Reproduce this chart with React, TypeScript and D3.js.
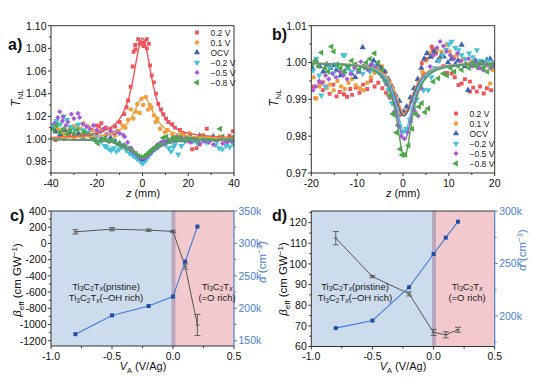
import React from 'react';
import * as d3 from 'd3';

// ---------- DATA ----------
const seriesNames = ['0.2 V', '0.1 V', 'OCV', '\u22120.2 V', '\u22120.5 V', '\u22120.8 V'];
const seriesColors = ['#F0555C', '#F2A03D', '#3B63AE', '#44C3D6', '#A359DD', '#4CA848'];
const seriesShapes = ['square', 'circle', 'up', 'down', 'diamond', 'left'];

// panel a scatter [z, T]
const aRed = [[-38,0.999],[-36,1.002],[-34,1.000],[-32,1.003],[-30,1.001],[-28,1.004],[-26,1.002],[-24,1.005],[-22,1.008],[-20,1.012],[-19,1.011],[-18,1.014],[-16,1.010],[-14,1.009],[-12,1.011],[-10,1.015],[-8,1.022],[-7,1.028],[-6.3,1.034],[-5.2,1.046],[-4.3,1.064],[-3.9,1.077],[-3.1,1.079],[-3.2,1.083],[-1.9,1.088],[-1.2,1.084],[-0.4,1.085],[0.4,1.082],[0.7,1.085],[1.9,1.088],[1.9,1.080],[2.8,1.084],[3.3,1.065],[4,1.056],[5,1.050],[5.9,1.040],[6.9,1.031],[8.1,1.026],[9.1,1.022],[10.3,1.018],[11.3,1.015],[12.9,1.013],[14.2,1.010],[16.4,1.008],[18,1.004],[20,0.998],[21.7,0.991],[23.6,0.992],[25,0.995],[27,0.998],[28.1,1.009],[30,1.000],[32,0.999],[34,1.002],[36,0.998],[38,1.003],[39.6,1.007]];
const aOrange = [[-38,1.010],[-36.8,1.008],[-35,1.004],[-33.9,1.0065],[-32,1.009],[-30,1.011],[-28.8,1.012],[-27,1.009],[-25.9,1.014],[-23.7,1.011],[-22,1.008],[-20,1.006],[-18,1.008],[-16,1.004],[-13.5,1.005],[-12,1.003],[-10.6,1.007],[-8.7,1.012],[-7.5,1.010],[-6.3,1.017],[-5.1,1.026],[-4,1.018],[-2.9,1.024],[-2.3,1.031],[-1.2,1.023],[-0.4,1.0356],[0.3,1.030],[1.5,1.037],[2.5,1.026],[3.2,1.030],[3.9,1.028],[5,1.021],[5.8,1.015],[6.5,1.018],[7.7,1.009],[9.8,1.006],[11,1.008],[13,1.004],[15,1.002],[17,1.005],[19,1.001],[20.6,1.005],[22.5,0.999],[24.5,1.001],[26.5,1.0035],[28.5,0.999],[30.5,1.001],[33.7,1.002],[35.5,0.998],[38.1,0.999],[40,1.001]];
const aOCV = [[-39.3,1.009],[-38,1.0065],[-36,1.004],[-34,1.008],[-32,1.006],[-30,1.003],[-28,1.005],[-26,1.002],[-24,1.004],[-22,1.001],[-20,1.003],[-18,1.000],[-16,0.999],[-14,1.001],[-12,0.998],[-10,0.996],[-8,0.994],[-6,0.991],[-4.5,0.988],[-3.5,0.9865],[-2.6,0.9844],[-1.8,0.983],[-1.2,0.982],[-0.5,0.9815],[0.3,0.981],[1,0.9815],[1.8,0.984],[2.8,0.9865],[3.5,0.989],[4.7,0.991],[6,0.993],[7.5,0.995],[9,0.997],[11,0.998],[13,1.000],[15,0.999],[17,1.001],[19,0.999],[21,1.002],[23,1.000],[25,1.003],[27,1.001],[29,0.999],[31,1.002],[33,1.000],[35,1.001],[37,0.999],[39,1.000]];
const aM02 = [[-39,1.012],[-37.5,1.016],[-36,1.013],[-34.5,1.020],[-33,1.017],[-31.5,1.011],[-30,1.009],[-28,1.013],[-26,1.008],[-24,1.006],[-22,1.004],[-20,1.002],[-18,0.998],[-16.5,0.994],[-15.8,0.993],[-14.5,0.991],[-13.6,0.990],[-12.5,0.992],[-11.4,0.989],[-10.2,0.991],[-9,0.993],[-7,0.990],[-5.5,0.987],[-4,0.985],[-2.5,0.983],[-1.2,0.981],[-0.3,0.979],[0.3,0.979],[1.2,0.981],[2.5,0.985],[4,0.988],[5.5,0.991],[7,0.993],[8.5,0.996],[10,0.995],[11.5,0.992],[12.5,0.989],[13.5,0.993],[14.1,0.9947],[15.6,0.9864],[17,0.994],[18.5,0.998],[20,1.000],[22,0.998],[24,0.996],[26,0.999],[28,0.997],[30,1.000],[32,0.995],[33.5,0.992],[34.9,0.991],[36.5,0.994],[38.1,0.993],[39.5,0.996]];
const aM05 = [[-38.5,1.014],[-37,1.019],[-36.2,1.024],[-35,1.016],[-34.7,1.0197],[-33.5,1.012],[-32.6,1.015],[-31.1,1.022],[-30,1.018],[-28.2,1.0226],[-27.5,1.019],[-26,1.013],[-24.5,1.011],[-23,1.009],[-21.5,1.012],[-20,1.008],[-18.5,1.006],[-17,1.009],[-15.5,1.004],[-14,1.007],[-12.5,1.005],[-11.3,1.0065],[-10,1.005],[-8.4,1.0035],[-7.8,1.002],[-6.5,0.997],[-5,0.992],[-3.5,0.988],[-2.5,0.986],[-1.5,0.984],[-0.5,0.982],[0.5,0.983],[1.5,0.985],[2.5,0.987],[3.5,0.989],[5,0.992],[6.5,0.995],[8,0.997],[9.5,0.998],[11,1.000],[13,0.999],[15,1.002],[17,0.999],[19,1.001],[21,0.997],[23,0.999],[25,0.996],[27,0.998],[29,0.997],[31,0.995],[33,0.999],[35,0.996],[37,0.997],[39,0.998]];
const aM08 = [[-39,1.008],[-37.5,1.012],[-36,1.006],[-34.5,1.009],[-33,1.004],[-31.5,1.007],[-30,1.005],[-28.5,1.008],[-27,1.003],[-25.5,1.006],[-24,1.004],[-22.5,1.002],[-21,0.999],[-19.5,0.9962],[-18,0.999],[-16.5,1.001],[-15,0.998],[-13.5,0.999],[-12,0.997],[-10.5,0.995],[-9,0.994],[-7.5,0.993],[-6,0.991],[-4.5,0.989],[-3,0.987],[-1.8,0.985],[-0.8,0.984],[0.3,0.984],[1.2,0.985],[2.2,0.987],[3.2,0.989],[4.5,0.991],[6,0.993],[7.5,0.995],[9,1.001],[10.5,1.002],[12,0.999],[13.5,1.001],[15,1.000],[16.5,1.002],[18,0.999],[20,1.001],[22,1.000],[24,0.999],[26,1.002],[28,1.000],[30,1.001],[32,0.999],[33.9,1.009],[35,1.002],[37,1.000],[39,1.001]];
// panel a fits (Lorentzian: amplitude, centre, width)
const aFitAmp = [0.089, 0.037, -0.019, -0.021, -0.018, -0.016];
const aFitCenter = [0, 0.5, 0, 0, 0, 0];
const aFitWidth = [5, 5.5, 5.5, 5, 6, 6];

// panel b scatter [z, T]
const bRed = [[-19.5,0.9935],[-19.1,0.9903],[-18.2,0.9945],[-17.5,0.9925],[-16.8,0.9935],[-16,0.9915],[-15.2,0.9940],[-14.5,0.9908],[-13.8,0.9920],[-12.9,0.9914],[-12.2,0.9907],[-11.5,0.9928],[-11.1,0.9912],[-10.3,0.9932],[-9.5,0.9918],[-8.7,0.9940],[-7.8,0.9928],[-7,0.9950],[-6.2,0.9935],[-5.4,0.9945],[-4.5,0.9930],[-3.7,0.9918],[-2.9,0.9905],[-2.1,0.9888],[-1.4,0.9870],[-0.9,0.9857],[-0.2,0.9860],[0.5,0.9865],[1.2,0.9878],[2,0.9895],[2.8,0.9920],[3.5,0.9950],[4.1,0.9998],[4.4,0.9970],[5.2,1.0010],[6.26,1.0043],[6.5,1.0036],[7.2,1.0025],[8,1.0010],[8.8,0.9990],[9.6,0.9972],[10.6,0.9970],[11.3,0.9960],[12.1,0.9939],[12.8,0.9943],[13.5,0.9955],[14.6,0.9921],[14.6,0.9948],[15.3,0.9932],[16.1,0.9921],[16.8,0.9935],[17.6,0.9916],[18.3,0.9930],[19.2,0.9925]];
const bOrange = [[-19.5,0.9960],[-18.9,0.9902],[-18.2,0.9935],[-17.4,0.9948],[-16.6,0.9930],[-15.9,0.9940],[-15.1,0.9925],[-14.3,0.9950],[-13.5,0.9935],[-12.7,0.9928],[-11.9,0.9945],[-11.1,0.9955],[-10.3,0.9938],[-9.4,0.9930],[-8.6,0.9925],[-7.8,0.9945],[-7,0.9960],[-6.2,0.9972],[-5.4,0.9985],[-4.6,0.9990],[-3.8,0.9975],[-3,0.9950],[-2.2,0.9915],[-1.4,0.9885],[-0.6,0.9864],[0.2,0.9860],[1,0.9872],[1.8,0.9895],[2.6,0.9915],[3.4,0.9945],[4.2,0.9975],[5,1.0005],[5.8,1.0025],[6.6,1.0020],[7.4,1.0035],[8.4,1.0029],[9.5,1.0048],[10.2,1.0030],[11,1.0015],[11.8,1.0020],[12.6,1.0005],[13.4,1.0010],[14.2,0.9995],[15,1.0002],[15.8,0.9990],[16.6,0.9998],[17.4,0.9985],[18.2,0.9992],[19,0.9943],[19.6,0.9980]];
const bOCV = [[-19.8,0.9985],[-19,1.0005],[-18.2,0.9990],[-17.4,0.9975],[-16.6,0.9995],[-15.8,0.9985],[-15,0.9992],[-14.5,0.9980],[-13.6,0.9965],[-12.8,0.9975],[-12,0.9985],[-11.2,0.9970],[-10.4,0.9960],[-9.6,0.9975],[-8.8,1.0041],[-8,0.9985],[-7.2,0.9990],[-6.4,1.0005],[-5.6,0.9995],[-4.8,0.9985],[-4,0.9975],[-3.2,0.9955],[-2.4,0.9935],[-1.6,0.9912],[-0.8,0.9896],[0.1,0.9866],[0.8,0.9880],[1.6,0.9905],[2.4,0.9930],[3.2,0.9955],[4,0.9985],[4.6,1.0010],[5.2,1.0025],[6,1.0015],[6.8,1.0030],[7.6,1.0005],[8.4,1.0020],[8.9,1.0016],[9.8,1.0000],[10.6,1.0010],[11.4,0.9995],[12,1.0005],[12.8,1.0048],[13.5,0.9990],[14.2,0.9925],[15,0.9995],[15.8,1.0005],[16.6,0.9985],[17.4,1.0000],[18.3,1.0007],[19,1.0010],[19.8,0.9995]];
const bM02 = [[-19.6,0.9978],[-18.9,1.0011],[-18.3,0.9965],[-17.8,0.9911],[-16.9,0.9934],[-16,0.9985],[-15.2,0.9970],[-14.4,0.9990],[-13.1,1.0020],[-12.7,1.0020],[-12,0.9985],[-11.2,0.9975],[-10.4,0.9992],[-9.6,0.9980],[-8.8,0.9970],[-8,0.9985],[-7.2,0.9975],[-6.4,0.9992],[-5.6,0.9980],[-4.8,0.9965],[-4,0.9950],[-3.2,0.9925],[-2.4,0.9890],[-1.6,0.9858],[-0.7,0.9826],[0,0.9812],[0.7,0.9820],[1.5,0.9845],[2.3,0.9875],[3,0.9900],[3.8,0.9935],[4.5,0.9925],[5.5,0.9925],[6.2,0.9960],[7,0.9985],[7.8,1.0005],[8.6,1.0020],[9.4,1.0035],[10,1.0050],[10.6,1.0057],[11.4,1.0040],[12.1,1.0034],[12.8,1.0020],[13.6,1.0010],[14.4,1.0025],[15.2,1.0015],[16.1,1.0034],[16.8,1.0005],[17.6,0.9995],[18.4,1.0005],[19.2,0.9990],[19.8,1.0000]];
const bM05 = [[-19.6,0.9925],[-19,0.9935],[-18.3,0.9950],[-17.6,0.9945],[-16.9,0.9965],[-16.2,0.9955],[-15.4,0.9970],[-14.6,0.9960],[-13.8,0.9975],[-13,0.9965],[-12.2,0.9955],[-11.4,0.9970],[-10.6,0.9985],[-9.8,0.9975],[-9.2,1.0002],[-8.4,0.9990],[-7.6,0.9980],[-6.8,0.9995],[-6,0.9985],[-5.2,0.9975],[-4.4,0.9960],[-3.6,0.9940],[-2.8,0.9905],[-2,0.9865],[-1.2,0.9830],[-0.4,0.9800],[0.3,0.9793],[1,0.9810],[1.7,0.9840],[2.5,0.9870],[3.3,0.9855],[4,0.9930],[4.8,0.9960],[5.9,0.9989],[6.6,1.0020],[7.4,1.0040],[8.1,1.0057],[8.8,1.0045],[9.5,1.0030],[10.3,1.0020],[11.1,1.0010],[11.9,1.0025],[12.7,1.0005],[13.5,0.9995],[14.3,1.0010],[15.1,0.9990],[15.9,1.0000],[16.7,0.9985],[17.5,0.9980],[18.3,0.9995],[19.1,0.9985],[19.8,0.9990]];
const bM08 = [[-19.8,0.9995],[-19.1,1.0005],[-18.4,0.9990],[-17.8,1.0027],[-17,0.9985],[-16.3,0.9975],[-15.6,1.0043],[-15.1,1.0030],[-14.4,0.9995],[-13.6,0.9985],[-12.8,0.9975],[-12,0.9990],[-11.2,1.0005],[-10.4,0.9995],[-9.6,0.9980],[-8.8,0.9990],[-8,1.0000],[-7.2,1.0010],[-6.2,1.0025],[-5.4,1.0000],[-4.6,0.9980],[-3.8,0.9950],[-3,0.9910],[-2.2,0.9860],[-1.4,0.9810],[-0.6,0.9765],[-0.2,0.9749],[0.5,0.9750],[1.2,0.9775],[2,0.9820],[2.8,0.9860],[3.5,0.9880],[4.1,0.9890],[4.8,0.9865],[5.5,0.9875],[6.6,0.9948],[7.7,0.9957],[8.8,0.9970],[9.6,0.9965],[10.4,0.9985],[11.2,0.9975],[12,0.9990],[12.8,0.9980],[13.6,0.9995],[14.4,0.9985],[15.2,1.0000],[16,0.9990],[16.8,0.9998],[17.6,0.9985],[18.4,0.9975],[19.2,0.9990]];
const bFitAmp = [-0.0138, -0.014, -0.0145, -0.019, -0.021, -0.0255];
const bFitCenter = [0.3, 0.3, 0.2, 0.3, 0.3, 0.3];
const bFitWidth = [2.4, 2.4, 2.6, 2.2, 2.3, 2.1];

// panels c, d
const vA = [-0.8, -0.5, -0.2, 0, 0.1, 0.2];
const cBeta = [143, 176, 164, 148, -284, -1006];
const cBetaErr = [27, 20, 15, 14, 30, 130];
const cAlpha = [160000, 189000, 203500, 218000, 272000, 326000];
const dBeta = [112.5, 93.9, 85.5, 66.8, 65.7, 68.1];
const dBetaErr = [3.2, 0.6, 1.0, 1.5, 1.5, 1.2];
const dAlpha = [188300, 195500, 227300, 259000, 274600, 289800];

const aXTicks = [-40, -20, 0, 20, 40];
const aYTicks = [0.98, 1.0, 1.02, 1.04, 1.06, 1.08, 1.1];
const bXTicks = [-20, -10, 0, 10, 20];
const bYTicks = [0.97, 0.98, 0.99, 1.0, 1.01];
const vTicks = [-1.0, -0.5, 0.0, 0.5];
const cLeftTicks = [400, 200, 0, -200, -400, -600, -800, -1000, -1200];
const cRightTicks = [150000, 200000, 250000, 300000, 350000];
const dLeftTicks = [60, 70, 80, 90, 100, 110, 120];
const dRightTicks = [200000, 250000, 300000];

// ---------- HELPERS ----------
const FONT = "'Liberation Sans', Arial, sans-serif";
const AX = '#333';
const RBLUE = '#4A80D6';
const TICK_FS = 10.5;

function symbolPath(shape: string) {
  switch (shape) {
    case 'square': return { d: d3.symbol(d3.symbolSquare, 15)() as string, r: 0 };
    case 'circle': return { d: d3.symbol(d3.symbolCircle, 16)() as string, r: 0 };
    case 'up': return { d: d3.symbol(d3.symbolTriangle, 17)() as string, r: 0 };
    case 'down': return { d: d3.symbol(d3.symbolTriangle, 17)() as string, r: 180 };
    case 'diamond': return { d: d3.symbol(d3.symbolSquare, 13)() as string, r: 45 };
    default: return { d: d3.symbol(d3.symbolTriangle, 17)() as string, r: -90 };
  }
}

function Marker({ x, y, shape, color }: any) {
  const s = symbolPath(shape);
  return <path d={s.d} transform={`translate(${x},${y}) rotate(${s.r})`} fill={color} />;
}

function lorentz(z: number, a: number, c: number, w: number) {
  return 1 + a / (1 + ((z - c) / w) ** 2);
}

function BottomAxis({ x, y, ticks, minor, fmt }: any) {
  return (
    <g>
      {ticks.map((t: number) => (
        <g key={'t' + t}>
          <line x1={x(t)} x2={x(t)} y1={y} y2={y + 3} stroke={AX} />
          <text x={x(t)} y={y + 13.5} textAnchor="middle" fontSize={TICK_FS} fontFamily={FONT} fill="#111">{fmt(t)}</text>
        </g>
      ))}
      {minor.map((t: number) => (
        <line key={'m' + t} x1={x(t)} x2={x(t)} y1={y} y2={y + 2} stroke={AX} />
      ))}
    </g>
  );
}

function LeftAxis({ y, x, ticks, minor, fmt }: any) {
  return (
    <g>
      {ticks.map((t: number) => (
        <g key={'t' + t}>
          <line x1={x - 3} x2={x} y1={y(t)} y2={y(t)} stroke={AX} />
          <text x={x - 4.5} y={y(t) + 3.8} textAnchor="end" fontSize={TICK_FS} fontFamily={FONT} fill="#111">{fmt(t)}</text>
        </g>
      ))}
      {minor.map((t: number) => (
        <line key={'m' + t} x1={x - 2} x2={x} y1={y(t)} y2={y(t)} stroke={AX} />
      ))}
    </g>
  );
}

function RightAxis({ y, x, ticks, minor, fmt, y0, y1 }: any) {
  return (
    <g>
      <line x1={x} x2={x} y1={y0} y2={y1} stroke={RBLUE} strokeWidth={1.2} />
      {ticks.map((t: number) => (
        <g key={'t' + t}>
          <line x1={x} x2={x + 3} y1={y(t)} y2={y(t)} stroke={RBLUE} />
          <text x={x + 4.5} y={y(t) + 3.8} textAnchor="start" fontSize={TICK_FS} fontFamily={FONT} fill={RBLUE}>{fmt(t)}</text>
        </g>
      ))}
      {minor.map((t: number) => (
        <line key={'m' + t} x1={x} x2={x + 2} y1={y(t)} y2={y(t)} stroke={RBLUE} />
      ))}
    </g>
  );
}

function TTitle({ x, y }: any) {
  return (
    <text transform={`translate(${x},${y}) rotate(-90)`} textAnchor="middle" fontSize={12} fontFamily={FONT} fill="#111">
      <tspan fontStyle="italic">T</tspan>
      <tspan fontSize={8} dy={3}>NL</tspan>
    </text>
  );
}

function ZTitle({ x, y }: any) {
  return (
    <text x={x} y={y} textAnchor="middle" fontSize={11} fontFamily={FONT} fill="#111">
      <tspan fontStyle="italic">z</tspan> (mm)
    </text>
  );
}

function VTitle({ x, y }: any) {
  return (
    <text x={x} y={y} textAnchor="middle" fontSize={11} fontFamily={FONT} fill="#111">
      <tspan fontStyle="italic">V</tspan>
      <tspan fontSize={7.5} dy={3}>A</tspan>
      <tspan dy={-3}> (V/Ag)</tspan>
    </text>
  );
}

function BetaTitle({ x, y }: any) {
  return (
    <text transform={`translate(${x},${y}) rotate(-90)`} textAnchor="middle" fontSize={11.5} fontFamily={FONT} fill="#111">
      <tspan fontStyle="italic">β</tspan>
      <tspan fontSize={8} dy={3}>eff</tspan>
      <tspan dy={-3}> (cm GW</tspan>
      <tspan fontSize={8} dy={-4}>−1</tspan>
      <tspan dy={4}>)</tspan>
    </text>
  );
}

function AlphaTitle({ x, y }: any) {
  return (
    <text transform={`translate(${x},${y}) rotate(-90)`} textAnchor="middle" fontSize={11.5} fontFamily={FONT} fill={RBLUE}>
      <tspan fontStyle="italic">α</tspan>
      <tspan> (cm</tspan>
      <tspan fontSize={8} dy={-4}>−1</tspan>
      <tspan dy={4}>)</tspan>
    </text>
  );
}

function TiText({ x, y, suffix }: any) {
  return (
    <text x={x} y={y} textAnchor="middle" fontSize={9.5} fontFamily={FONT} fill="#222">
      <tspan>Ti</tspan>
      <tspan fontSize={6.5} dy={1.5}>3</tspan>
      <tspan dy={-1.5}>C</tspan>
      <tspan fontSize={6.5} dy={1.5}>2</tspan>
      <tspan dy={-1.5}>T</tspan>
      <tspan fontSize={6.5} dy={1.5} fontStyle="italic">x</tspan>
      <tspan dy={-1.5}>{suffix}</tspan>
    </text>
  );
}

function Legend({ x, y, step }: any) {
  return (
    <g>
      {seriesNames.map((n, i) => (
        <g key={n}>
          <Marker x={x} y={y + i * step} shape={seriesShapes[i]} color={seriesColors[i]} />
          <text x={x + 13.5} y={y + i * step + 3.2} fontSize={8.5} fontFamily={FONT} fill="#222">{n}</text>
        </g>
      ))}
    </g>
  );
}

// ---------- PANELS ----------
function ScatterPanel({ id, x, y, series, amp, cen, wid, xTicks, xMinor, yTicks, yMinor, yFmt, legend }: any) {
  const [x0, x1] = x.range();
  const [y0, y1] = y.range();
  const dom = x.domain();
  const zs = d3.range(dom[0], dom[1] + 0.001, (dom[1] - dom[0]) / 400);
  const line = d3.line<number[]>().x(d => x(d[0])).y(d => y(d[1]));
  return (
    <g>
      <defs>
        <clipPath id={id}>
          <rect x={x0} y={y1} width={x1 - x0} height={y0 - y1} />
        </clipPath>
      </defs>
      <g clipPath={`url(#${id})`}>
        {series.map((s: number[][], i: number) => (
          <g key={i}>
            {s.map((p, j) => <Marker key={j} x={x(p[0])} y={y(p[1])} shape={seriesShapes[i]} color={seriesColors[i]} />)}
          </g>
        ))}
        {amp.map((a: number, i: number) => (
          <path key={'f' + i} d={line(zs.map(z => [z, lorentz(z, a, cen[i], wid[i])])) as string}
            fill="none" stroke={seriesColors[i]} strokeWidth={1.4} />
        ))}
      </g>
      <rect x={x0} y={y1} width={x1 - x0} height={y0 - y1} fill="none" stroke={AX} strokeWidth={1} />
      <BottomAxis x={x} y={y0} ticks={xTicks} minor={xMinor} fmt={(t: number) => String(t)} />
      <LeftAxis y={y} x={x0} ticks={yTicks} minor={yMinor} fmt={yFmt} />
      {legend}
    </g>
  );
}

function DualPanel({ x, yL, yR, beta, betaErr, alpha, leftTicks, leftMinor, rightTicks, rightMinor, leftFmt, textXL, textXR }: any) {
  const [x0, x1] = x.range();
  const [y0, y1] = yL.range();
  const betaLine = d3.line<number>().x((_, i) => x(vA[i])).y(d => yL(d));
  const alphaLine = d3.line<number>().x((_, i) => x(vA[i])).y(d => yR(d));
  return (
    <g>
      <rect x={x0} y={y1} width={x(0) - x0} height={y0 - y1} fill="#CCDCEC" />
      <rect x={x(0)} y={y1} width={x1 - x(0)} height={y0 - y1} fill="#F2C9CD" />
      <rect x={x(-0.012)} y={y1} width={x(0.02) - x(-0.012)} height={y0 - y1} fill="#BBA6BD" />
      <path d={betaLine(beta) as string} fill="none" stroke="#555" strokeWidth={1} />
      {beta.map((b: number, i: number) => (
        <g key={'e' + i} stroke="#555" strokeWidth={0.9}>
          <line x1={x(vA[i])} x2={x(vA[i])} y1={yL(b - betaErr[i])} y2={yL(b + betaErr[i])} />
          <line x1={x(vA[i]) - 3} x2={x(vA[i]) + 3} y1={yL(b - betaErr[i])} y2={yL(b - betaErr[i])} />
          <line x1={x(vA[i]) - 3} x2={x(vA[i]) + 3} y1={yL(b + betaErr[i])} y2={yL(b + betaErr[i])} />
          <line x1={x(vA[i]) - 2} x2={x(vA[i]) + 2} y1={yL(b)} y2={yL(b)} />
        </g>
      ))}
      <path d={alphaLine(alpha) as string} fill="none" stroke="#3F7AD6" strokeWidth={1.1} />
      {alpha.map((a: number, i: number) => (
        <rect key={'a' + i} x={x(vA[i]) - 2} y={yR(a) - 2} width={4} height={4} fill="#1E4FA8" />
      ))}
      <line x1={x0} x2={x1} y1={y1} y2={y1} stroke={AX} />
      <line x1={x0} x2={x1} y1={y0} y2={y0} stroke={AX} />
      <line x1={x0} x2={x0} y1={y1} y2={y0} stroke={AX} />
      <BottomAxis x={x} y={y0} ticks={vTicks} minor={[-0.75, -0.25, 0.25]} fmt={(t: number) => t.toFixed(1)} />
      <LeftAxis y={yL} x={x0} ticks={leftTicks} minor={leftMinor} fmt={leftFmt} />
      <RightAxis y={yR} x={x1} ticks={rightTicks} minor={rightMinor} fmt={(t: number) => (t / 1000) + 'k'} y0={y0} y1={y1} />
      <TiText x={textXL} y={289.5} suffix="(pristine)" />
      <TiText x={textXL} y={301} suffix="(–OH rich)" />
      <TiText x={textXR} y={289.5} suffix="" />
      <text x={textXR} y={301} textAnchor="middle" fontSize={9.5} fontFamily={FONT} fill="#222">(=O rich)</text>
    </g>
  );
}

export default function App() {
  const ax = d3.scaleLinear().domain([-40, 40]).range([51, 234]);
  const ay = d3.scaleLinear().domain([0.97, 1.10]).range([173, 25.7]);
  const bx = d3.scaleLinear().domain([-20, 20]).range([311.3, 494.7]);
  const by = d3.scaleLinear().domain([0.97, 1.01]).range([173, 25.7]);
  const cx = d3.scaleLinear().domain([-1, 0.5]).range([51, 234]);
  const cyL = d3.scaleLinear().domain([-1265, 400]).range([346, 211]);
  const cyR = d3.scaleLinear().domain([141800, 350000]).range([346, 211]);
  const dx = d3.scaleLinear().domain([-1, 0.5]).range([311.3, 494.7]);
  const dyL = d3.scaleLinear().domain([60, 125.66]).range([346.5, 211]);
  const dyR = d3.scaleLinear().domain([170800, 300000]).range([346.5, 211]);

  return (
    <svg width={534} height={381} viewBox="0 0 534 381"
      style={{ position: 'absolute', left: 0, top: 0, background: '#fff' }}>
      <rect width={534} height={381} fill="#fff" />
      <ScatterPanel id="clipA" x={ax} y={ay}
        series={[aRed, aOrange, aOCV, aM02, aM05, aM08]}
        amp={aFitAmp} cen={aFitCenter} wid={aFitWidth}
        xTicks={aXTicks} xMinor={[-30, -10, 10, 30]}
        yTicks={aYTicks} yMinor={[0.97, 0.99, 1.01, 1.03, 1.05, 1.07, 1.09]}
        yFmt={(t: number) => t.toFixed(2)}
        legend={<Legend x={197} y={32.5} step={10} />} />
      <ScatterPanel id="clipB" x={bx} y={by}
        series={[bRed, bOrange, bOCV, bM02, bM05, bM08]}
        amp={bFitAmp} cen={bFitCenter} wid={bFitWidth}
        xTicks={bXTicks} xMinor={[-15, -5, 5, 15]}
        yTicks={bYTicks} yMinor={[0.975, 0.985, 0.995, 1.005]}
        yFmt={(t: number) => t.toFixed(2)}
        legend={<Legend x={456} y={113.5} step={10} />} />
      <DualPanel x={cx} yL={cyL} yR={cyR} beta={cBeta} betaErr={cBetaErr} alpha={cAlpha}
        leftTicks={cLeftTicks} leftMinor={[300, 100, -100, -300, -500, -700, -900, -1100]}
        rightTicks={cRightTicks} rightMinor={[175000, 225000, 275000, 325000]}
        leftFmt={(t: number) => String(t)} textXL={106} textXR={217} />
      <DualPanel x={dx} yL={dyL} yR={dyR} beta={dBeta} betaErr={dBetaErr} alpha={dAlpha}
        leftTicks={dLeftTicks} leftMinor={[65, 75, 85, 95, 105, 115, 125]}
        rightTicks={dRightTicks} rightMinor={[175000, 225000, 275000]}
        leftFmt={(t: number) => String(t)} textXL={355} textXR={467} />

      <TTitle x={20} y={98} />
      <TTitle x={278} y={98} />
      <ZTitle x={143} y={197} />
      <ZTitle x={403} y={197} />
      <BetaTitle x={21} y={280} />
      <BetaTitle x={287} y={279} />
      <AlphaTitle x={266} y={262} />
      <AlphaTitle x={526} y={250} />
      <VTitle x={143} y={370} />
      <VTitle x={403} y={370} />

      <text x={8} y={50} fontSize={16} fontWeight="bold" fontFamily={FONT} fill="#111">a)</text>
      <text x={272} y={40} fontSize={16} fontWeight="bold" fontFamily={FONT} fill="#111">b)</text>
      <text x={10} y={221} fontSize={16} fontWeight="bold" fontFamily={FONT} fill="#111">c)</text>
      <text x={272} y={221} fontSize={16} fontWeight="bold" fontFamily={FONT} fill="#111">d)</text>
    </svg>
  );
}
